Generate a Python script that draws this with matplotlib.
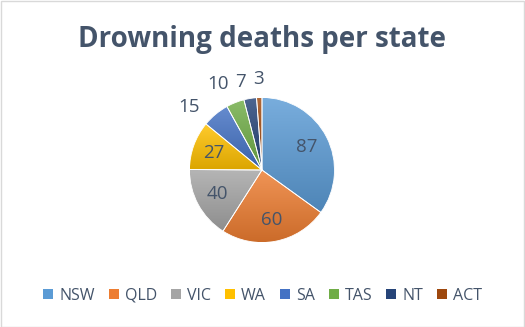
import numpy as np
import matplotlib
matplotlib.use("Agg")
import matplotlib.pyplot as plt
from matplotlib.colors import to_rgb
from matplotlib.patches import Rectangle

# Data
states = ["NSW", "QLD", "VIC", "WA", "SA", "TAS", "NT", "ACT"]
deaths = [87, 60, 40, 27, 15, 10, 7, 3]
colors = ["#5B9BD5", "#ED7D31", "#A5A5A5", "#FFC000", "#4472C4", "#70AD47", "#264478", "#9E480E"]

text_color = "#44546A"
plt.rcParams["font.family"] = ["Open Sans", "DejaVu Sans"]

W, H = 525, 327
fig = plt.figure(figsize=(W / 100, H / 100), dpi=100)
renderer = fig.canvas.get_renderer()

# light grey frame around chart area
fig.patches.append(Rectangle((0.5 / W, 0.5 / H), 1 - 1.5 / W, 1 - 1.5 / H,
                             transform=fig.transFigure, fill=False,
                             edgecolor="#D9D9D9", linewidth=1))

fig.text(0.5, 1 - 39 / H, "Drowning deaths per state", ha="center", va="center",
         fontsize=20, fontweight="bold", color=text_color)

# pie axes: centre ~ (262, 170) px, radius ~ 72.5 px
cx, cy, r = 262, 170, 72.5
ax = fig.add_axes([(cx - r) / W, (H - cy - r) / H, 2 * r / W, 2 * r / H])
ax.set_xlim(-1, 1)
ax.set_ylim(-1, 1)
ax.set_aspect("equal")
ax.axis("off")

wedges, _ = ax.pie(deaths, colors=colors, startangle=90, counterclock=False,
                   radius=1, wedgeprops=dict(edgecolor="white", linewidth=0.6))

# vertical gradient fill per slice (lighter top, darker bottom)
for w, c in zip(wedges, colors):
    base = np.array(to_rgb(c))
    top = base + (1 - base) * 0.18
    bot = base * 0.86
    t = np.linspace(0, 1, 64)[:, None]
    grad = top[None, :] * (1 - t) + bot[None, :] * t
    img = np.repeat(grad[:, None, :], 2, axis=1)
    bb = w.get_path().get_extents(w.get_patch_transform())
    im = ax.imshow(img, extent=[bb.x0, bb.x1, bb.y0, bb.y1], origin="upper",
                   aspect="auto", interpolation="bilinear", zorder=w.get_zorder())
    im.set_clip_path(w)
    w.set_facecolor("none")
    w.set_zorder(w.get_zorder() + 0.1)

ax.set_xlim(-1, 1)
ax.set_ylim(-1, 1)

# data labels: inside for big slices, outside (best fit) for small ones
total = sum(deaths)
cum = 0
outside = []
for v in deaths:
    mid = np.radians(90 - 360 * (cum + v / 2) / total)
    cum += v
    if v >= 20:
        d = 0.7
        ax.text(d * np.cos(mid), d * np.sin(mid), str(v), ha="center", va="center",
                fontsize=13.5, color=text_color)
    else:
        d = 1.33 if v >= 10 else 1.25
        t = ax.text(d * np.cos(mid), d * np.sin(mid), str(v), ha="center", va="center",
                    fontsize=13.5, color=text_color, clip_on=False)
        outside.append((t, d))

# push crowded outside labels apart, right to left along their circle
gap = 7 / r
for i in range(len(outside) - 2, -1, -1):
    t, d = outside[i]
    tn, dn = outside[i + 1]
    wi = t.get_window_extent(renderer).width / r
    wn = tn.get_window_extent(renderer).width / r
    xn = tn.get_position()[0]
    x, y = t.get_position()
    lim = xn - (wi + wn) / 2 - gap
    if x > lim:
        x = lim
        y = np.sqrt(max(d ** 2 - x ** 2, 0))
        t.set_position((x, y))

# legend along the bottom, laid out by hand
sq, pad, spacing, ly = 10, 6, 14, 294
widths = []
for s in states:
    tmp = fig.text(0, 0, s, fontsize=11.5)
    widths.append(tmp.get_window_extent(renderer).width)
    tmp.remove()
total_w = sum(sq + pad + w for w in widths) + spacing * (len(states) - 1)
x = (W - total_w) / 2
for s, c, w in zip(states, colors, widths):
    fig.patches.append(Rectangle((x / W, (H - ly - sq / 2) / H), sq / W, sq / H,
                                 transform=fig.transFigure, facecolor=c, edgecolor="none"))
    fig.text((x + sq + pad) / W, (H - ly) / H, s, ha="left", va="center_baseline",
             fontsize=11.5, color=text_color)
    x += sq + pad + w + spacing

fig.savefig("out.png", dpi=100)
